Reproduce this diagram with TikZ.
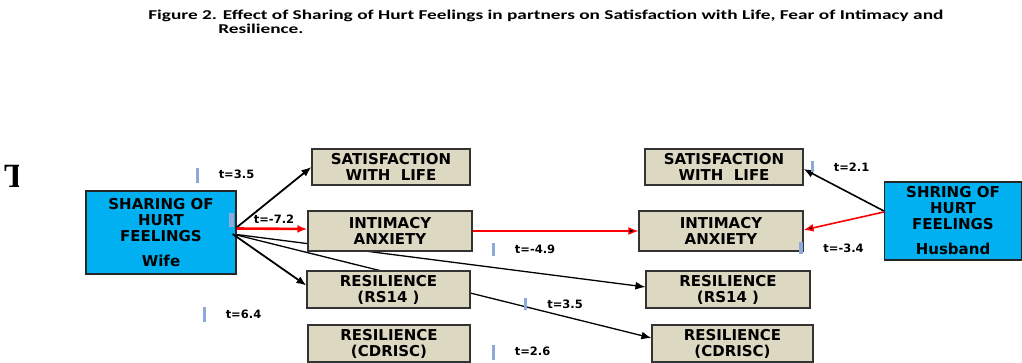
\documentclass[tikz,border=0pt]{standalone}
\usepackage{fontspec}
\setmainfont{DejaVu Sans}
\newfontfamily\titlefont{Carlito}
\newfontfamily\markfont{Liberation Serif}
\usetikzlibrary{arrows.meta,backgrounds}
\definecolor{boxtan}{HTML}{DDD8C2}
\definecolor{boxblue}{HTML}{00B0F0}
\definecolor{tickblue}{HTML}{8EA9DB}
\tikzset{
  >={Latex[length=10pt,width=8pt]},
  varbox/.style={shape=rectangle,draw=black!80,fill=boxtan,line width=1.2pt,align=center,inner sep=0pt,font=\bfseries\fontsize{15}{16}\selectfont},
  groupbox/.style={shape=rectangle,draw=black!85,fill=boxblue,line width=1.2pt,align=center,inner sep=0pt,font=\bfseries\fontsize{15}{16}\selectfont},
  tlabel/.style={font=\bfseries\fontsize{11.5}{12}\selectfont,inner sep=0pt},
  titleline/.style={anchor=base west,inner sep=0pt,xscale=1.43,font=\titlefont\bfseries\fontsize{13.5}{16}\selectfont}
}

\begin{document}
\begin{tikzpicture}[x=1pt,y=-1pt]
\useasboundingbox (0,0) rectangle (1022,363);

\node[titleline] (title1) at (148,19.5) {Figure 2. Effect of Sharing of Hurt Feelings in partners on Satisfaction with Life, Fear of Intimacy and};
\node[titleline] (title2) at (218,34) {Resilience.};

\begin{scope}
\clip (0,150) rectangle (18.5,200);
\node[inner sep=0pt,font=\markfont\bfseries\fontsize{34}{34}\selectfont] (mark) at (15.5,176.5) {T};
\end{scope}

\node[groupbox,minimum width=150pt,minimum height=83pt] (wife) at (161,232.5) {SHARING OF\\HURT\\FEELINGS\\[9pt]Wife};
\node[groupbox,minimum width=137pt,minimum height=78pt] (hus) at (953,221) {SHRING OF\\HURT\\FEELINGS\\[9pt]Husband};

\node[varbox,minimum width=158pt,minimum height=36pt] (satL) at (391,167) {SATISFACTION\\WITH\ \ LIFE};
\node[varbox,minimum width=164pt,minimum height=40pt] (intL) at (390,231) {INTIMACY\\ANXIETY};
\node[varbox,minimum width=163pt,minimum height=37pt] (rsL) at (388.5,289.5) {RESILIENCE\\(RS14 )};
\node[varbox,minimum width=162pt,minimum height=37pt] (cdL) at (389,343.5) {RESILIENCE\\(CDRISC)};

\node[varbox,minimum width=158pt,minimum height=36pt] (satR) at (724,167) {SATISFACTION\\WITH\ \ LIFE};
\node[varbox,minimum width=164pt,minimum height=40pt] (intR) at (721,231) {INTIMACY\\ANXIETY};
\node[varbox,minimum width=164pt,minimum height=37pt] (rsR) at (728,289.5) {RESILIENCE\\(RS14 )};
\node[varbox,minimum width=161pt,minimum height=37pt] (cdR) at (732.5,343.5) {RESILIENCE\\(CDRISC)};

% wife paths
\path [draw=black,line width=1.8pt] ([yshift=5pt]wife.east) edge[->] (satL.west);
\path [draw=red,line width=2.6pt] ([yshift=4pt]wife.east) edge[->] ([yshift=2pt]intL.west);
\path [draw=black,line width=1.8pt] ([xshift=-4pt,yshift=-1.5pt]wife.east) edge[->] ([yshift=4pt]rsL.west);
\begin{pgfonlayer}{background}
\path [draw=black,line width=1.3pt] ([xshift=-4pt,yshift=-1.5pt]wife.east) edge[->] ([yshift=2.5pt]rsR.west);
\path [draw=black,line width=1.3pt] ([xshift=-4pt,yshift=-1.5pt]wife.east) edge[->] ([yshift=5.5pt]cdR.west);
\end{pgfonlayer}
\path [draw=red,line width=1.3pt] (intL.east) edge[->] (intR.west);

% husband paths
\path [draw=black,line width=1.6pt] ([yshift=10pt]hus.west) edge[->] ([yshift=-2pt]satR.east);
\path [draw=red,line width=1.6pt] ([yshift=9pt]hus.west) edge[->] ([yshift=1pt]intR.east);

% t values
\fill[tickblue] (196,168) rectangle (199,183);
\node[tlabel] (t1) at (236.5,174) {t=3.5};
\fill[tickblue] (229,213) rectangle (234,227);
\node[tlabel] (t2) at (274,219) {t=-7.2};
\fill[tickblue] (203,307) rectangle (206,322);
\node[tlabel] (t3) at (243.5,314) {t=6.4};
\fill[tickblue] (492,243) rectangle (495,256);
\node[tlabel] (t4) at (535,249) {t=-4.9};
\fill[tickblue] (524,298) rectangle (527,310);
\node[tlabel] (t5) at (565,304) {t=3.5};
\fill[tickblue] (492,345) rectangle (495,360);
\node[tlabel] (t6) at (532.5,351) {t=2.6};
\fill[tickblue] (811,161) rectangle (814,172);
\node[tlabel] (t7) at (851.5,167) {t=2.1};
\fill[tickblue] (799,242) rectangle (803,254);
\node[tlabel] (t8) at (843.5,248) {t=-3.4};
\end{tikzpicture}
\end{document}
